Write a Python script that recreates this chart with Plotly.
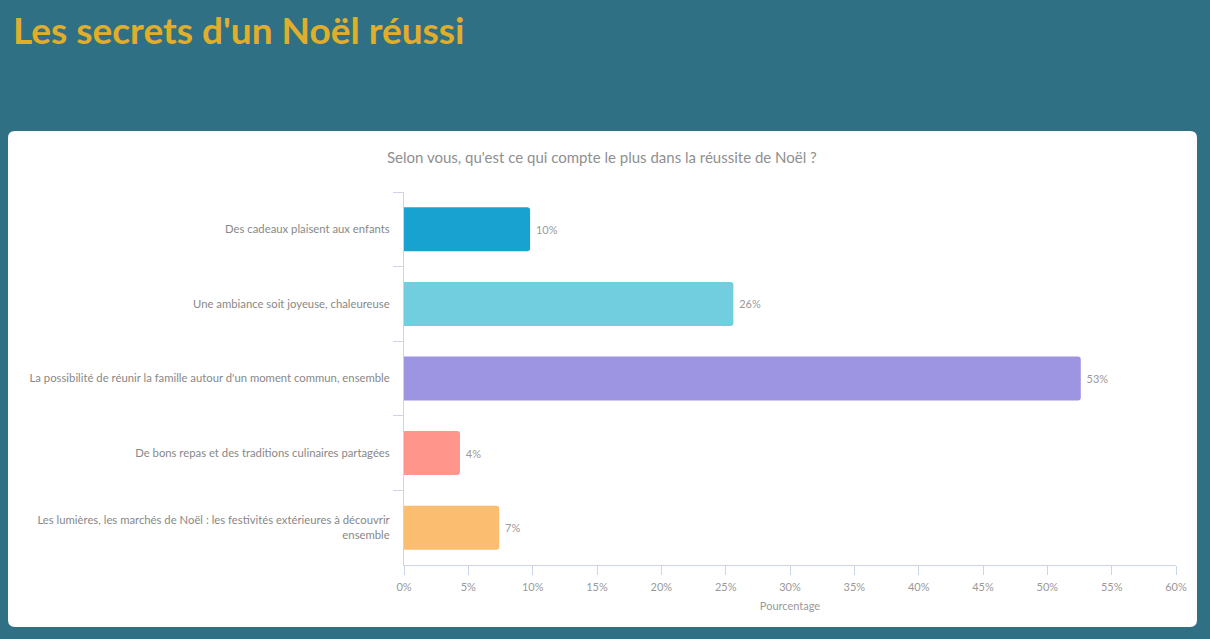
import plotly.graph_objects as go

categories = [
    "Des cadeaux plaisent aux enfants",
    "Une ambiance soit joyeuse, chaleureuse",
    "La possibilité de réunir la famille autour d'un moment commun, ensemble",
    "De bons repas et des traditions culinaires partagées",
    "Les lumières, les marchés de Noël : les festivités extérieures à découvrir<br>ensemble",
]
values = [9.8, 25.6, 52.6, 4.35, 7.4]
labels = ["10%", "26%", "53%", "4%", "7%"]
colors = ["#18A2D0", "#71CEDE", "#9D94E2", "#FF958B", "#FBBD6F"]
x_ticks = [0, 5, 10, 15, 20, 25, 30, 35, 40, 45, 50, 55, 60]

W, H = 1210, 639
L, R, T, B = 404, 34, 192, 74
PW, PH = W - L - R, H - T - B

def px(x):
    return (x - L) / PW

def py(y):
    return 1 - (y - T) / PH

FONT = "Lato"

fig = go.Figure()
fig.add_trace(go.Bar(
    y=categories, x=values, orientation="h",
    marker=dict(color=colors, line=dict(width=0), cornerradius=3),
    text=[" " + t for t in labels], textposition="outside", cliponaxis=False,
    textfont=dict(family=FONT, size=11, color="#999999"),
    hoverinfo="skip",
))

# card with rounded corners
x0, x1, y0, y1, r = 8, 1197, 131, 627, 7
rx, ry = r / PW, r / PH
path = (
    f"M {px(x0)+rx},{py(y0)} L {px(x1)-rx},{py(y0)} Q {px(x1)},{py(y0)} {px(x1)},{py(y0)-ry} "
    f"L {px(x1)},{py(y1)+ry} Q {px(x1)},{py(y1)} {px(x1)-rx},{py(y1)} "
    f"L {px(x0)+rx},{py(y1)} Q {px(x0)},{py(y1)} {px(x0)},{py(y1)+ry} "
    f"L {px(x0)},{py(y0)-ry} Q {px(x0)},{py(y0)} {px(x0)+rx},{py(y0)} Z"
)
fig.add_shape(type="path", path=path, xref="paper", yref="paper",
              fillcolor="#FFFFFF", line=dict(width=0), layer="below")

fig.add_annotation(text="<b>Les secrets d'un Noël réussi</b>", xref="paper", yref="paper",
                   x=px(11), y=py(30), xanchor="left", yanchor="middle", showarrow=False,
                   font=dict(family=FONT, size=37, color="#E0AE2A"))
fig.add_annotation(text="Selon vous, qu'est ce qui compte le plus dans la réussite de Noël ?",
                   xref="paper", yref="paper", x=px(602), y=py(157), xanchor="center",
                   yanchor="middle", showarrow=False,
                   font=dict(family=FONT, size=15, color="#8f8f8f"))

fig.update_layout(
    width=W, height=H,
    margin=dict(l=L, r=R, t=T, b=B, pad=0),
    paper_bgcolor="#307085", plot_bgcolor="rgba(0,0,0,0)",
    bargap=0.41, showlegend=False,
    font=dict(family=FONT),
)
fig.update_xaxes(
    range=[0, 60], tickvals=x_ticks, ticktext=[f"{v}%" for v in x_ticks],
    showgrid=False, zeroline=False, showline=True, linecolor="#ccd6eb", linewidth=1,
    ticks="outside", ticklen=9, tickcolor="#ccd6eb", ticklabelstandoff=3,
    tickfont=dict(family=FONT, size=11, color="#999999"),
    title=dict(text="Pourcentage", font=dict(family=FONT, size=11, color="#999999"), standoff=10),
)
fig.update_yaxes(
    autorange="reversed", showgrid=False, zeroline=False,
    showline=True, linecolor="#ccd6eb", linewidth=1,
    ticks="outside", ticklen=10, tickcolor="#ccd6eb", tickson="boundaries",
    ticklabelstandoff=11,
    tickfont=dict(family=FONT, size=11.3, color="#888888"),
)

fig.write_html("out.html", config={"displayModeBar": False},
               post_script="document.body.style.margin='0';")
